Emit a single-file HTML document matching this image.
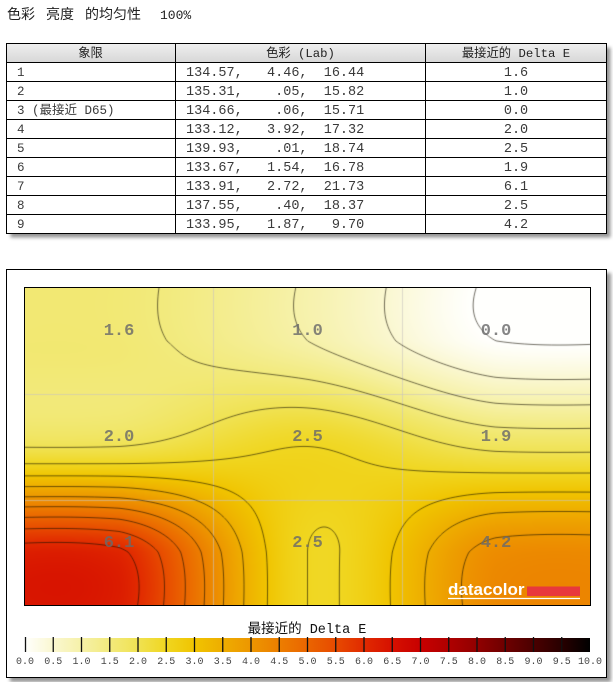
<!DOCTYPE html>
<html><head><meta charset="utf-8">
<style>
html,body{margin:0;padding:0;background:#fff;width:613px;height:682px;overflow:hidden;position:relative}
svg,canvas{position:absolute;display:block}
#bg{left:0;top:0;z-index:0}
#hm{left:25px;top:288px;z-index:1;background:#f0dc40}
#fg{left:0;top:0;z-index:2;pointer-events:none}
text{font-family:"Liberation Mono","Noto Sans CJK SC",monospace}
.pre{white-space:pre}
</style></head><body>
<svg id="bg" width="613" height="682" xmlns="http://www.w3.org/2000/svg">
<defs>
<filter id="ds" x="-5%" y="-5%" width="112%" height="115%">
<feDropShadow dx="4" dy="4" stdDeviation="1.8" flood-color="#000" flood-opacity="0.42"/>
</filter>
<linearGradient id="hg" x1="0" y1="0" x2="0" y2="1">
<stop offset="0" stop-color="#efefef"/><stop offset="1" stop-color="#d7d7d7"/>
</linearGradient>
<linearGradient id="cb" x1="0" y1="0" x2="1" y2="0">
<stop offset="0" stop-color="rgb(255,255,253)"/>
<stop offset="0.05" stop-color="rgb(250,247,208)"/>
<stop offset="0.10" stop-color="rgb(246,241,168)"/>
<stop offset="0.15" stop-color="rgb(242,234,124)"/>
<stop offset="0.20" stop-color="rgb(240,226,82)"/>
<stop offset="0.25" stop-color="rgb(240,214,32)"/>
<stop offset="0.30" stop-color="rgb(240,196,0)"/>
<stop offset="0.35" stop-color="rgb(238,173,0)"/>
<stop offset="0.40" stop-color="rgb(237,150,0)"/>
<stop offset="0.45" stop-color="rgb(236,126,0)"/>
<stop offset="0.50" stop-color="rgb(234,101,0)"/>
<stop offset="0.55" stop-color="rgb(231,74,0)"/>
<stop offset="0.60" stop-color="rgb(225,42,0)"/>
<stop offset="0.65" stop-color="rgb(214,16,0)"/>
<stop offset="0.70" stop-color="rgb(200,0,0)"/>
<stop offset="0.75" stop-color="rgb(175,0,0)"/>
<stop offset="0.80" stop-color="rgb(145,0,0)"/>
<stop offset="0.85" stop-color="rgb(110,0,0)"/>
<stop offset="0.90" stop-color="rgb(75,0,0)"/>
<stop offset="0.95" stop-color="rgb(40,0,0)"/>
<stop offset="1" stop-color="rgb(0,0,0)"/>
</linearGradient>
</defs>

<!-- title -->
<g fill="#222" font-size="14">
<text x="7" y="19" style="font-family:'Noto Sans CJK SC',sans-serif">色彩</text>
<text x="46" y="19" style="font-family:'Noto Sans CJK SC',sans-serif">亮度</text>
<text x="85" y="19" style="font-family:'Noto Sans CJK SC',sans-serif">的均匀性</text>
<text x="160" y="19" font-size="13">100%</text>
</g>

<!-- table -->
<rect x="6.5" y="43.5" width="600" height="190" fill="#fff" filter="url(#ds)"/>
<rect x="6.5" y="43.5" width="600" height="19" fill="url(#hg)"/>
<g stroke="#000" stroke-width="1" fill="none">
<rect x="6.5" y="43.5" width="600" height="190"/>
<line x1="6" y1="62.5" x2="607" y2="62.5"/>
<line x1="6" y1="81.5" x2="607" y2="81.5"/>
<line x1="6" y1="100.5" x2="607" y2="100.5"/>
<line x1="6" y1="119.5" x2="607" y2="119.5"/>
<line x1="6" y1="138.5" x2="607" y2="138.5"/>
<line x1="6" y1="157.5" x2="607" y2="157.5"/>
<line x1="6" y1="176.5" x2="607" y2="176.5"/>
<line x1="6" y1="195.5" x2="607" y2="195.5"/>
<line x1="6" y1="214.5" x2="607" y2="214.5"/>
<line x1="175.5" y1="43" x2="175.5" y2="234"/>
<line x1="425.5" y1="43" x2="425.5" y2="234"/>
</g>
<g fill="#222" font-size="12.3" text-anchor="middle">
<text x="90.5" y="57">象限</text>
<text x="300.5" y="57" class="pre" xml:space="preserve">色彩 (Lab)</text>
<text x="516" y="57" class="pre" xml:space="preserve">最接近的 Delta E</text>
</g>
<g fill="#3a3a3a" font-size="12.5">
<text x="17" y="76">1</text>
<text x="17" y="95">2</text>
<text x="17" y="114" class="pre" xml:space="preserve">3 (最接近 D65)</text>
<text x="17" y="133">4</text>
<text x="17" y="152">5</text>
<text x="17" y="171">6</text>
<text x="17" y="190">7</text>
<text x="17" y="209">8</text>
<text x="17" y="228">9</text>
</g>
<g fill="#3a3a3a" font-size="13.5" class="pre">
<text x="186" y="76" xml:space="preserve">134.57,   4.46,  16.44</text>
<text x="186" y="95" xml:space="preserve">135.31,    .05,  15.82</text>
<text x="186" y="114" xml:space="preserve">134.66,    .06,  15.71</text>
<text x="186" y="133" xml:space="preserve">133.12,   3.92,  17.32</text>
<text x="186" y="152" xml:space="preserve">139.93,    .01,  18.74</text>
<text x="186" y="171" xml:space="preserve">133.67,   1.54,  16.78</text>
<text x="186" y="190" xml:space="preserve">133.91,   2.72,  21.73</text>
<text x="186" y="209" xml:space="preserve">137.55,    .40,  18.37</text>
<text x="186" y="228" xml:space="preserve">133.95,   1.87,   9.70</text>
</g>
<g fill="#3a3a3a" font-size="13.5" text-anchor="middle">
<text x="516" y="76">1.6</text>
<text x="516" y="95">1.0</text>
<text x="516" y="114">0.0</text>
<text x="516" y="133">2.0</text>
<text x="516" y="152">2.5</text>
<text x="516" y="171">1.9</text>
<text x="516" y="190">6.1</text>
<text x="516" y="209">2.5</text>
<text x="516" y="228">4.2</text>
</g>

<!-- chart box -->
<rect x="6.5" y="269.5" width="600" height="408" fill="#fff" stroke="#000" stroke-width="1" filter="url(#ds)"/>

<!-- colorbar -->
<text x="307" y="633" text-anchor="middle" font-size="13.5" fill="#111" class="pre" xml:space="preserve">最接近的 Delta E</text>
<rect x="25" y="638" width="565" height="14" fill="url(#cb)"/>
<g stroke="#111" stroke-width="1.3">
<line x1="25.5" y1="637" x2="25.5" y2="652"/>
<line x1="53.25" y1="637" x2="53.25" y2="652"/>
<line x1="81.5" y1="637" x2="81.5" y2="652"/>
<line x1="109.75" y1="637" x2="109.75" y2="652"/>
<line x1="138" y1="637" x2="138" y2="652"/>
<line x1="166.25" y1="637" x2="166.25" y2="652"/>
<line x1="194.5" y1="637" x2="194.5" y2="652"/>
<line x1="222.75" y1="637" x2="222.75" y2="652"/>
<line x1="251" y1="637" x2="251" y2="652"/>
<line x1="279.25" y1="637" x2="279.25" y2="652"/>
<line x1="307.5" y1="637" x2="307.5" y2="652"/>
<line x1="335.75" y1="637" x2="335.75" y2="652"/>
<line x1="364" y1="637" x2="364" y2="652"/>
<line x1="392.25" y1="637" x2="392.25" y2="652"/>
<line x1="420.5" y1="637" x2="420.5" y2="652"/>
<line x1="448.75" y1="637" x2="448.75" y2="652"/>
<line x1="477" y1="637" x2="477" y2="652"/>
<line x1="505.25" y1="637" x2="505.25" y2="652"/>
<line x1="533.5" y1="637" x2="533.5" y2="652"/>
<line x1="561.75" y1="637" x2="561.75" y2="652"/>
</g>
<g fill="#444" font-size="10" text-anchor="middle">
<text x="25" y="664">0.0</text>
<text x="53.25" y="664">0.5</text>
<text x="81.5" y="664">1.0</text>
<text x="109.75" y="664">1.5</text>
<text x="138" y="664">2.0</text>
<text x="166.25" y="664">2.5</text>
<text x="194.5" y="664">3.0</text>
<text x="222.75" y="664">3.5</text>
<text x="251" y="664">4.0</text>
<text x="279.25" y="664">4.5</text>
<text x="307.5" y="664">5.0</text>
<text x="335.75" y="664">5.5</text>
<text x="364" y="664">6.0</text>
<text x="392.25" y="664">6.5</text>
<text x="420.5" y="664">7.0</text>
<text x="448.75" y="664">7.5</text>
<text x="477" y="664">8.0</text>
<text x="505.25" y="664">8.5</text>
<text x="533.5" y="664">9.0</text>
<text x="561.75" y="664">9.5</text>
<text x="590" y="664">10.0</text>
</g>
</svg>

<canvas id="hm" width="565" height="317"></canvas>

<svg id="fg" width="613" height="682" xmlns="http://www.w3.org/2000/svg">
<rect x="24.5" y="287.5" width="566" height="318" fill="none" stroke="#000" stroke-width="1"/>
<g fill="#6a6a6a" fill-opacity="0.82" font-size="17" font-weight="bold" text-anchor="middle">
<text x="119" y="335">1.6</text>
<text x="307.5" y="335">1.0</text>
<text x="496" y="335">0.0</text>
<text x="119" y="441">2.0</text>
<text x="307.5" y="441">2.5</text>
<text x="496" y="441">1.9</text>
<text x="119" y="547">6.1</text>
<text x="307.5" y="547">2.5</text>
<text x="496" y="547">4.2</text>
</g>
<text x="448" y="595" fill="#fff" font-size="17" font-weight="bold" style="font-family:'Liberation Sans',sans-serif">datacolor</text>
<rect x="527" y="586.5" width="53" height="9.5" fill="#e8383c"/>
<line x1="448" y1="598.5" x2="580" y2="598.5" stroke="#fff" stroke-width="1.2"/>
</svg>

<script>
(function(){
var W=565,H=317;
var cv=document.getElementById('hm');
var ctx=cv.getContext('2d');
var cx0=W/6,hx=W/3,cy0=H/6,hy=H/3;
var V=[[1.6,1.0,0.0],[2.0,2.5,1.9],[6.1,2.5,4.2]];
var K=0.55;
function cr(P0,P1,P2,P3,t){return 0.5*(2*P1+(-P0+P2)*t+(2*P0-5*P1+4*P2-P3)*t*t+(-P0+3*P1-3*P2+P3)*t*t*t);}
function cl(k){return k<0?0:(k>2?2:k);}
function interp(A,i,t){
  var v=cr(A[cl(i-1)],A[cl(i)],A[cl(i+1)],A[cl(i+2)],t);
  if(i<0){var b=A[0]; v=b+(v-b)*K;}
  else if(i>1){var b2=A[2]; v=b2+(v-b2)*K;}
  return v;
}
function f(x,y){
  var gx=(x-cx0)/hx, gy=(y-cy0)/hy;
  var i=Math.floor(gx), tx=gx-i, j=Math.floor(gy), ty=gy-j;
  var col=[interp(V[0],i,tx),interp(V[1],i,tx),interp(V[2],i,tx)];
  return interp(col,j,ty);
}
var stops=[[255,255,253],[250,247,208],[246,241,168],[242,234,124],[240,226,82],[240,214,32],[240,196,0],[238,173,0],[237,150,0],[236,126,0],[234,101,0],[231,74,0],[225,42,0],[214,16,0],[200,0,0],[175,0,0],[145,0,0],[110,0,0],[75,0,0],[40,0,0],[0,0,0]];
function cmap(v){
  if(v<0)v=0; if(v>10)v=10;
  var p=v*2, k=Math.floor(p); if(k>=20){k=19;} var t=p-k;
  var A=stops[k],B=stops[k+1];
  return [A[0]+(B[0]-A[0])*t, A[1]+(B[1]-A[1])*t, A[2]+(B[2]-A[2])*t];
}
var img=ctx.createImageData(W,H), D=img.data;
for(var y=0;y<H;y++){for(var x=0;x<W;x++){
  var c=cmap(f(x+0.5,y+0.5)); var o=(y*W+x)*4;
  D[o]=c[0];D[o+1]=c[1];D[o+2]=c[2];D[o+3]=255;
}}
ctx.putImageData(img,0,0);
ctx.fillStyle='rgba(200,195,190,0.6)';
ctx.fillRect(188,0,1,H); ctx.fillRect(377,0,1,H);
ctx.fillRect(0,106,W,1); ctx.fillRect(0,212,W,1);
var NX=W+1,NY=H+1,G=new Float32Array(NX*NY);
for(var j=0;j<NY;j++)for(var i=0;i<NX;i++)G[j*NX+i]=f(i,j);
var levels=[]; for(var k=0;k<=20;k++)levels.push(k*0.5+1e-5);
ctx.strokeStyle='rgba(20,15,0,0.6)'; ctx.lineWidth=1;
ctx.beginPath();
for(var j=0;j<H;j++)for(var i=0;i<W;i++){
  var a=G[j*NX+i],b=G[j*NX+i+1],c=G[(j+1)*NX+i+1],d=G[(j+1)*NX+i];
  var mn=Math.min(a,b,c,d),mx=Math.max(a,b,c,d);
  for(var q=0;q<levels.length;q++){
    var L=levels[q]; if(L<mn||L>mx)continue;
    var pts=[];
    if((a>L)!==(b>L))pts.push([i+(L-a)/(b-a),j]);
    if((b>L)!==(c>L))pts.push([i+1,j+(L-b)/(c-b)]);
    if((d>L)!==(c>L))pts.push([i+(L-d)/(c-d),j+1]);
    if((a>L)!==(d>L))pts.push([i,j+(L-a)/(d-a)]);
    if(pts.length>=2){ctx.moveTo(pts[0][0],pts[0][1]);ctx.lineTo(pts[1][0],pts[1][1]);}
    if(pts.length===4){ctx.moveTo(pts[2][0],pts[2][1]);ctx.lineTo(pts[3][0],pts[3][1]);}
  }
}
ctx.stroke();
})();
</script>
</body></html>
